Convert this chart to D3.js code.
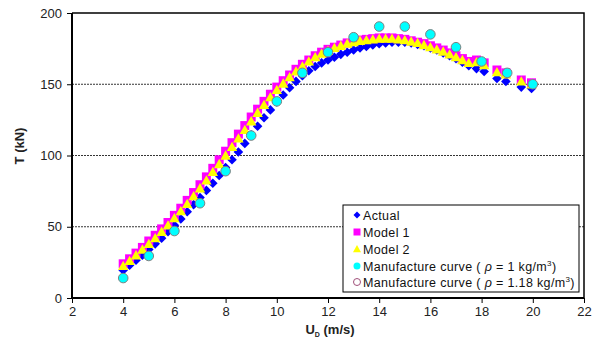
<!DOCTYPE html>
<html>
<head>
<meta charset="utf-8">
<script src="https://cdn.jsdelivr.net/npm/d3@7"></script>
<style>
  body { margin: 0; background: #fff; }
  svg { font-family: "Liberation Sans", Arial, sans-serif; }
</style>
</head>
<body>
<div id="chart"></div>
<script>
// wind speed (m/s) for the dense measured/model series
var speeds = [4.00, 4.25, 4.50, 4.75, 5.00, 5.25, 5.50, 5.75, 6.00, 6.25, 6.50, 6.75,
  7.00, 7.25, 7.50, 7.75, 8.00, 8.25, 8.50, 8.75, 9.00, 9.25, 9.50, 9.75,
  10.00, 10.25, 10.50, 10.75, 11.00, 11.25, 11.50, 11.75, 12.00, 12.25, 12.50, 12.75,
  13.00, 13.25, 13.50, 13.75, 14.00, 14.25, 14.50, 14.75, 15.00, 15.25, 15.50, 15.75,
  16.00, 16.25, 16.50, 16.75, 17.00, 17.25, 17.50, 17.80, 18.10, 18.60, 18.95, 19.55, 19.95];

var actual = [19.5, 23, 26.5, 30, 34, 38, 42, 46.5, 51, 55.5, 60.5, 65.5,
  70.5, 75.5, 80.5, 86, 91.5, 97, 102.5, 108.5, 114.5, 120.5, 126.5, 132,
  137.5, 142.5, 147.5, 152, 156, 159.5, 162.5, 165, 167, 169, 171, 172.5,
  174, 175.5, 176.5, 177.5, 178.5, 179, 179.5, 179.5, 179.5, 179, 178, 177,
  175.5, 174, 172, 170, 168, 165.5, 163, 161, 159, 154, 152, 148, 147];

var model1 = [24, 27.5, 31.5, 35.5, 40, 44, 48.5, 53, 58, 63, 68.5, 74,
  79.5, 85, 91, 97, 103, 109, 115, 121, 127, 132.5, 138, 143,
  148, 152.5, 156.5, 160.5, 164, 167, 170, 172.5, 174.5, 176, 177.5, 179,
  180, 181, 181.5, 182, 182.5, 182.5, 182.5, 182, 181.5, 180.5, 179.5, 178.5,
  177, 175.5, 174, 172, 170, 168, 166, 167, 165, 160, 158, 153, 151];

var model2 = [22.5, 26, 30, 34, 38, 42, 46.5, 51, 56, 61, 66, 71.5,
  77, 82.5, 88.5, 94, 100, 106, 112, 118, 124, 130, 135.5, 141,
  146, 150.5, 155, 159, 162.5, 166, 169, 171.5, 173.5, 175.5, 177, 178.5,
  179.5, 180.5, 181, 181.5, 182, 182, 182, 181.5, 181, 180, 179, 177.5,
  176, 174.5, 173, 171, 169, 167, 165, 165.5, 163.5, 158.5, 157, 152, 150];

// manufacturer curve, integer speeds
var mfrSpeeds = [4, 5, 6, 7, 8, 9, 10, 11, 12, 13, 14, 15, 16, 17, 18, 19, 20];
var mfrRho1 = [14, 29.5, 47, 66.5, 89, 114, 138, 158, 172.5, 183, 190.5, 190.5, 185, 176, 166, 158, 150];
var mfrRho118 = []; // not visible in the plot

var xTicks = [2, 4, 6, 8, 10, 12, 14, 16, 18, 20, 22];
var yTicks = [0, 50, 100, 150, 200];

var W = 596, H = 349;
var margin = {top: 13, right: 12, bottom: 51, left: 72};

var x = d3.scaleLinear().domain([2, 22]).range([margin.left, W - margin.right]);
var y = d3.scaleLinear().domain([0, 200]).range([H - margin.bottom, margin.top]);

var svg = d3.select('#chart').append('svg')
  .attr('width', W)
  .attr('height', H);

// gridlines
svg.append('g')
  .selectAll('line')
  .data([50, 100, 150])
  .enter().append('line')
  .attr('x1', x(2)).attr('x2', x(22))
  .attr('y1', function(d) { return y(d); })
  .attr('y2', function(d) { return y(d); })
  .attr('stroke', '#000')
  .attr('stroke-width', 0.8)
  .attr('stroke-dasharray', '2,1');

// frame top/right
svg.append('path')
  .attr('d', 'M' + x(2) + ',' + y(200) + 'H' + x(22) + 'V' + y(0))
  .attr('fill', 'none')
  .attr('stroke', '#000')
  .attr('stroke-width', 1.5);

// axes
var xAxis = svg.append('g')
  .attr('transform', 'translate(0,' + y(0) + ')')
  .call(d3.axisBottom(x).tickValues(xTicks).tickSize(5).tickPadding(4).tickFormat(d3.format('d')));
var yAxis = svg.append('g')
  .attr('transform', 'translate(' + x(2) + ',0)')
  .call(d3.axisLeft(y).tickValues(yTicks).tickSize(5).tickPadding(5).tickFormat(d3.format('d')));

[xAxis, yAxis].forEach(function(a) {
  a.select('.domain').attr('stroke', '#000').attr('stroke-width', 2);
  a.selectAll('.tick line').attr('stroke', '#000').attr('stroke-width', 1);
  a.selectAll('.tick text').attr('fill', '#222').style('font-size', '13px');
});
xAxis.select('.domain').attr('d', 'M' + x(2) + ',0H' + x(22));
yAxis.select('.domain').attr('d', 'M0,' + y(0) + 'V' + y(200));

// axis titles
var xt = svg.append('text')
  .attr('x', 330).attr('y', 334)
  .attr('text-anchor', 'middle')
  .style('font-size', '13px').style('font-weight', 'bold')
  .attr('fill', '#222');
xt.append('tspan').text('U');
xt.append('tspan').attr('dy', 3).style('font-size', '7px').text('D');
xt.append('tspan').attr('dy', -3).text(' (m/s)');

svg.append('text')
  .attr('transform', 'translate(24,146) rotate(-90)')
  .attr('text-anchor', 'middle')
  .style('font-size', '13px').style('font-weight', 'bold')
  .attr('fill', '#222')
  .text('T (kN)');

// marker shapes
function diamond(r) { return 'M0,' + (-r) + 'L' + r + ',0L0,' + r + 'L' + (-r) + ',0Z'; }
function square(r) { return 'M' + (-r) + ',' + (-r) + 'H' + r + 'V' + r + 'H' + (-r) + 'Z'; }
function triangle(r) { return 'M0,' + (-r) + 'L' + r + ',' + (r * 0.8) + 'L' + (-r) + ',' + (r * 0.8) + 'Z'; }

function drawSeries(xs, ys, path, fill) {
  svg.append('g')
    .selectAll('path')
    .data(ys)
    .enter().append('path')
    .attr('d', path)
    .attr('fill', fill)
    .attr('transform', function(d, i) { return 'translate(' + x(xs[i]) + ',' + y(d) + ')'; });
}

drawSeries(speeds, actual, diamond(4.8), '#0000ff');
drawSeries(speeds, model1, square(4.5), '#ff00ff');
drawSeries(speeds, model2, triangle(5.2), '#ffff00');

svg.append('g')
  .selectAll('circle')
  .data(mfrRho1)
  .enter().append('circle')
  .attr('cx', function(d, i) { return x(mfrSpeeds[i]); })
  .attr('cy', function(d) { return y(d); })
  .attr('r', 4.8)
  .attr('fill', '#00ffff')
  .attr('stroke', '#808080')
  .attr('stroke-width', 1);

svg.append('g')
  .selectAll('circle')
  .data(mfrRho118)
  .enter().append('circle')
  .attr('cx', function(d, i) { return x(mfrSpeeds[i]); })
  .attr('cy', function(d) { return y(d); })
  .attr('r', 4.8)
  .attr('fill', 'none')
  .attr('stroke', '#a0507a');

// legend
var lg = svg.append('g').attr('transform', 'translate(343,205)');
lg.append('rect')
  .attr('width', 236).attr('height', 87)
  .attr('fill', '#fff')
  .attr('stroke', '#000').attr('stroke-width', 1);

var legendItems = [
  {label: 'Actual'},
  {label: 'Model 1'},
  {label: 'Model 2'},
  {label: 'Manufacture curve', rho: '1'},
  {label: 'Manufacture curve', rho: '1.18'}
];
var rowY = [10, 27, 44, 61, 77];

legendItems.forEach(function(item, i) {
  var g = lg.append('g').attr('transform', 'translate(14,' + rowY[i] + ')');
  if (i === 0) g.append('path').attr('d', diamond(3.5)).attr('fill', '#0000ff');
  if (i === 1) g.append('path').attr('d', square(3.5)).attr('fill', '#ff00ff');
  if (i === 2) g.append('path').attr('d', triangle(4)).attr('fill', '#ffff00');
  if (i === 3) g.append('circle').attr('r', 3.5).attr('fill', '#00ffff');
  if (i === 4) g.append('circle').attr('r', 3.5).attr('fill', 'none').attr('stroke', '#a0507a');
  var t = g.append('text').attr('x', 6).attr('y', 4.5)
    .style('font-size', '12.5px').style('letter-spacing', '0.35px').attr('fill', '#111');
  t.append('tspan').text(item.label);
  if (item.rho) {
    t.append('tspan').text(' ( ');
    t.append('tspan').style('font-style', 'italic').text('\u03C1');
    t.append('tspan').text(' = ' + item.rho + ' kg/m');
    t.append('tspan').attr('dy', -5).style('font-size', '8px').text('3');
    t.append('tspan').attr('dy', 5).text(')');
  }
});
</script>
</body>
</html>
